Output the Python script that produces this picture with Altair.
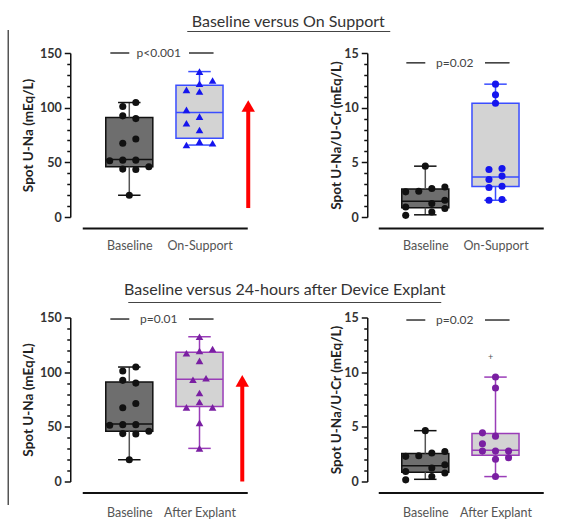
import altair as alt
import pandas as pd

# ---------------- data ----------------
TOP_CATS = ["Baseline", "On-Support"]
BOT_CATS = ["Baseline", "After Explant"]
SECTION_TITLES = ["Baseline versus On Support", "Baseline versus 24-hours after Device Explant"]
Y_TITLES = ["Spot U-Na (mEq/L)", "Spot U-Na/U-Cr (mEq/L)"]

# Spot U-Na (mEq/L)
base_una = [104.7, 101, 92.5, 90, 67.4, 71.3, 51.4, 52, 52, 43.8, 43.5, 46, 19.9]
onsup_una = [133, 121.9, 124.9, 116.3, 114.8, 98, 91.8, 85.7, 79.6, 65.8, 68.9, 67.4]
explant_una = [132.4, 117.3, 119.4, 121.2, 110.3, 93, 94.5, 80.9, 72.7, 67.8, 67.8, 53.6, 30.3]
# Spot U-Na/U-Cr (mEq/L)
base_ratio = [4.65, 2.3, 2.35, 2.6, 2.75, 0.92, 0.15, 1.23, 0.46, 1.53, 0.77]
onsup_ratio = [12.15, 11.17, 10.4, 4.35, 4.44, 3.43, 3.74, 2.7, 2.82, 1.53, 1.6]
explant_ratio = [9.55, 8.55, 4.45, 4.15, 3.45, 2.78, 2.78, 2.78, 2.03, 2.18, 0.45]
explant_ratio_outlier = [11.4]

# box summaries: min, q1, median, q3, max
base_una_box = [19.9, 46, 52.7, 91, 104.7]
onsup_una_box = [65.8, 72, 95.5, 120.5, 133]
explant_una_box = [30.3, 68.7, 93.6, 118.2, 132.4]
base_ratio_box = [0.2, 0.85, 1.45, 2.55, 4.65]
onsup_ratio_box = [1.53, 2.79, 3.65, 10.4, 12.15]
explant_ratio_box = [0.45, 2.4, 2.85, 4.4, 9.55]

# p-value annotations
p_texts = ["p<0.001", "p=0.02", "p=0.01", "p=0.02"]
p_levels = [150, 14.1, 148.6, 14.77]

# red arrows (left panels): x position, bottom value, head value
arrow_top = [2.694, 8.2, 101.5]
arrow_bot = [2.609, 0, 92]

# ---------------- layout / style (not data) ----------------
base_una_cols = [1, -1, -1, 1, -1, 1, -3, -1, 1, -1, 1, 3, 0]
onsup_una_cols = [0, 0, 2, -2, 0, -2, 0, -2, 0, -2, 0, 2]
explant_una_cols = [0, -2, 0, 2, 0, -1, 1, 0, 0, -2, 2, 0, 0]
base_ratio_cols = [0, -3, -1, 1, 3, -3, -3, 1, 1, 3, 3]
onsup_ratio_cols = [0, 0, 0, -1, 1, -1, 1, -1, 1, -1, 1]
explant_ratio_cols = [0, 0, -2, 0, -2, -2, 0, 2, 0, 2, 0]

STEP = 0.093
HALF_BOX = 0.335
HALF_CAP = 0.16
XDOM = [0.33, 2.68]
W, H = 165, 164
FONT = "Lato"

BASE_STYLE = dict(fill="#6e6e6e", stroke="#111111", whisker="#555555", cap="#111111",
                  point="#111111", shape="circle", psize=50)
BLUE = "#3a4dff"
PURPLE = "#9a3db8"


def xenc(field, cats, lpad):
    expr = f"datum.value == 1 ? '{cats[0]}' : datum.value == 2 ? '{cats[1]}' : ''"
    ax = alt.Axis(values=[1, 2], labelExpr=expr, title=None, ticks=False, tickSize=0,
                  domainWidth=2, domainColor="#111111", offset=11, labelPadding=lpad,
                  labelFont=FONT, labelFontSize=12.5, labelColor="#555555", grid=False,
                  labelFlush=False)
    return alt.X(f"{field}:Q", scale=alt.Scale(domain=XDOM, nice=False, zero=False), axis=ax)


def yenc(field, ymax, major, title, title_x):
    minor = major / 5
    vals = [round(i * minor, 4) for i in range(int(round(ymax / minor)) + 1)]
    ax = alt.Axis(values=vals,
                  labelExpr=f"datum.value % {major} == 0 ? datum.label : ''",
                  tickSize={"condition": {"test": f"datum.value % {major} == 0", "value": 6}, "value": 3.5},
                  tickColor="#111111", tickWidth=1.5, domainColor="#111111", domainWidth=1.5,
                  offset=12 if ymax > 20 else 11, labelPadding=3, labelFont=FONT,
                  labelFontWeight="bold", labelFontSize=12.5, labelColor="#333333",
                  title=title, titleFont=FONT, titleFontSize=13.5, titleFontWeight="bold",
                  titleColor="#222222", titleX=title_x, titleY=H / 2, titleBaseline="middle",
                  titleAngle=270, grid=False)
    return alt.Y(f"{field}:Q", scale=alt.Scale(domain=[0, ymax], nice=False, zero=True), axis=ax)


def group_layers(pos, vals, cols, box, style, X, Y):
    layers = []
    lo, q1, med, q3, hi = box
    bdf = pd.DataFrame({"xa": [pos - HALF_BOX], "xb": [pos + HALF_BOX], "q1": [q1], "q3": [q3]})
    layers.append(alt.Chart(bdf).mark_rect(fill=style["fill"], stroke=style["stroke"], strokeWidth=1.5)
                  .encode(x=X("xa"), x2="xb", y=Y("q1"), y2="q3"))
    wdf = pd.DataFrame({"x": [pos, pos], "ya": [q3, lo], "yb": [hi, q1]})
    layers.append(alt.Chart(wdf).mark_rule(color=style["whisker"], strokeWidth=1.5)
                  .encode(x=X("x"), y=Y("ya"), y2="yb"))
    cdf = pd.DataFrame({"xa": [pos - HALF_CAP] * 2, "xb": [pos + HALF_CAP] * 2, "y": [lo, hi]})
    layers.append(alt.Chart(cdf).mark_rule(color=style["cap"], strokeWidth=1.5)
                  .encode(x=X("xa"), x2="xb", y=Y("y")))
    mdf = pd.DataFrame({"xa": [pos - HALF_BOX], "xb": [pos + HALF_BOX], "y": [med]})
    layers.append(alt.Chart(mdf).mark_rule(color=style["stroke"], strokeWidth=1.5)
                  .encode(x=X("xa"), x2="xb", y=Y("y")))
    pdf = pd.DataFrame({"x": [pos + c * STEP for c in cols], "y": vals})
    layers.append(alt.Chart(pdf).mark_point(shape=style["shape"], filled=True, opacity=1,
                                            color=style["point"], size=style["psize"])
                  .encode(x=X("x"), y=Y("y")))
    return layers


def panel(cats, lpad, groups, ymax, major, ytitle, title_x, ptext, plevel,
          arrow=None, header=None, border=None, outlier=None):
    def Y(f):
        return yenc(f, ymax, major, ytitle, title_x)

    def X(f):
        return xenc(f, cats, lpad)

    layers = []
    for pos, (vals, cols, box, style) in zip([1, 2], groups):
        layers += group_layers(pos, vals, cols, box, style, X, Y)

    # p-value annotation
    ldf = pd.DataFrame({"xa": [0.73, 1.85], "xb": [1.0, 2.2], "y": [plevel, plevel]})
    layers.append(alt.Chart(ldf).mark_rule(color="#333333", strokeWidth=1.5)
                  .encode(x=X("xa"), x2="xb", y=Y("y")))
    tdf = pd.DataFrame({"x": [1.42], "y": [plevel], "t": [ptext]})
    layers.append(alt.Chart(tdf).mark_text(font=FONT, fontSize=12, color="#444444",
                                           align="center", baseline="middle")
                  .encode(x=X("x"), y=Y("y"), text="t:N"))

    if outlier is not None:
        odf = pd.DataFrame({"x": [1.93], "y": outlier})
        layers.append(alt.Chart(odf).mark_text(text="+", fontSize=9, color="#555555",
                                               baseline="middle")
                      .encode(x=X("x"), y=Y("y")))

    if arrow is not None:
        ax_, a0, a1 = arrow
        adf = pd.DataFrame({"x": [ax_], "ya": [a0], "yb": [a1]})
        layers.append(alt.Chart(adf).mark_rule(color="#ff0000", strokeWidth=4)
                      .encode(x=X("x"), y=Y("ya"), y2="yb"))
        hdf = pd.DataFrame({"x": [ax_], "y": [a1]})
        layers.append(alt.Chart(hdf).mark_point(shape="triangle-up", filled=True, opacity=1,
                                                color="#ff0000", size=180)
                      .encode(x=X("x"), y=Y("y")))

    if header is not None:
        text, cx, cy, ux0, ux1, uy = header
        hd = pd.DataFrame({"t": [text]})
        layers.append(alt.Chart(hd).mark_text(font=FONT, fontSize=16, color="#333333",
                                              align="center", baseline="middle")
                      .encode(text="t:N", x=alt.value(cx), y=alt.value(cy)))
        layers.append(alt.Chart(hd).mark_rule(color="#444444", strokeWidth=1)
                      .encode(x=alt.value(ux0), x2=alt.value(ux1), y=alt.value(uy)))

    if border is not None:
        bx, by0, by1 = border
        layers.append(alt.Chart(pd.DataFrame({"t": [0]})).mark_rule(color="#555555", strokeWidth=1.5)
                      .encode(x=alt.value(bx), y=alt.value(by0), y2=alt.value(by1)))

    return alt.layer(*layers).properties(width=W, height=H)


def style(color, pcolor, shape, psize):
    return dict(fill="#d3d3d3", stroke=color, whisker=color, cap=color,
                point=pcolor, shape=shape, psize=psize)


ON_STYLE_T = style(BLUE, "#1515ee", "triangle-up", 58)
ON_STYLE_C = style(BLUE, "#1515ee", "circle", 50)
EX_STYLE_T = style(PURPLE, "#7a1fa2", "triangle-up", 58)
EX_STYLE_C = style(PURPLE, "#7a1fa2", "circle", 50)

tl = panel(TOP_CATS, 11,
           [(base_una, base_una_cols, base_una_box, BASE_STYLE),
            (onsup_una, onsup_una_cols, onsup_una_box, ON_STYLE_T)],
           150, 50, Y_TITLES[0], -42, p_texts[0], p_levels[0],
           arrow=arrow_top,
           header=(SECTION_TITLES[0], 206, -31, 105, 308, -21.5),
           border=(-74, -23, 452))
tr = panel(TOP_CATS, 11,
           [(base_ratio, base_ratio_cols, base_ratio_box, BASE_STYLE),
            (onsup_ratio, onsup_ratio_cols, onsup_ratio_box, ON_STYLE_C)],
           15, 5, Y_TITLES[1], -31, p_texts[1], p_levels[1])
bl = panel(BOT_CATS, 14,
           [(base_una, base_una_cols, base_una_box, BASE_STYLE),
            (explant_una, explant_una_cols, explant_una_box, EX_STYLE_T)],
           150, 50, Y_TITLES[0], -42, p_texts[2], p_levels[2],
           arrow=arrow_bot,
           header=(SECTION_TITLES[1], 202.5, -27.5, 46, 359, -15))
br = panel(BOT_CATS, 14,
           [(base_ratio, base_ratio_cols, base_ratio_box, BASE_STYLE),
            (explant_ratio, explant_ratio_cols, explant_ratio_box, EX_STYLE_C)],
           15, 5, Y_TITLES[1], -31, p_texts[3], p_levels[3],
           outlier=explant_ratio_outlier)

chart = alt.concat(tl, tr, bl, br, columns=2,
                   spacing=alt.RowColnumber(row=100.5, column=131),
                   bounds="flush").properties(
    padding={"left": 7.25, "top": 14, "right": 10, "bottom": 5},
    background="white",
).configure_view(stroke=None)

chart.save("out.html", embed_options={"renderer": "svg", "actions": False})
